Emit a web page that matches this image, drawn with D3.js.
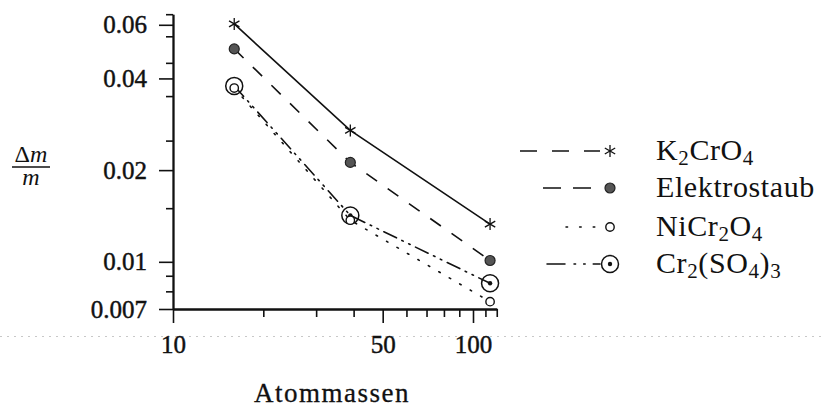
<!DOCTYPE html>
<html>
<head>
<meta charset="utf-8">
<script src="https://cdn.jsdelivr.net/npm/d3@7"></script>
<style>
  html, body { margin: 0; padding: 0; background: #fff; }
  svg { display: block; }
  svg text { font-family: "Liberation Serif", "DejaVu Serif", serif; fill: #111; }
</style>
</head>
<body>
<svg id="chart" width="826" height="408"></svg>
<script>
// Atomic masses of the measured elements (x) and relative mass change (y)
const masses = [16, 39, 114];
const k2cro4 = [0.0604, 0.0270, 0.0133];
const elektrostaub = [0.0500, 0.0212, 0.0101];
const nicr2o4 = [0.0372, 0.0137, 0.0074];
const cr2so43 = [0.0378, 0.0142, 0.0085];

const seriesNames = ["K_2CrO_4", "Elektrostaub", "NiCr_2O_4", "Cr_2(SO_4)_3"];

const xMajorTicks = [10, 50, 100];
const xMajorLabels = ["10", "50", "100"];
const xMinorTicks = [20, 30, 40, 60, 70, 80, 90, 110, 120];
const yMajorTicks = [0.007, 0.01, 0.02, 0.04, 0.06];
const yMajorLabels = ["0.007", "0.01", "0.02", "0.04", "0.06"];
const yMinorTicks = [0.008, 0.009, 0.015, 0.025, 0.035, 0.045, 0.055, 0.065];

const xLabel = "Atommassen";

const svg = d3.select("#chart");
const SERIF = "'Liberation Serif', 'DejaVu Serif', serif";

const x = d3.scaleLog().domain([10, 120]).range([173, 173 + 300 * Math.log10(12)]);
const y = d3.scaleLog().domain([0.007, 0.065]).range([309, 309 - 304.6 * Math.log10(0.065 / 0.007)]);

// faint scanner streak across the page
svg.append("line")
  .attr("x1", 0).attr("x2", 826).attr("y1", 336.5).attr("y2", 336.5)
  .attr("stroke", "#c8c8c8").attr("stroke-width", 1).attr("stroke-dasharray", "2,5");

// ---- axes ----
function styleAxis(g) {
  g.attr("font-family", null);
  g.selectAll("path, line").attr("stroke", "#111").attr("stroke-width", 1.6);
  g.selectAll("text")
    .style("font-family", SERIF).style("font-size", "25px")
    .attr("fill", "#111").attr("stroke", "#111").attr("stroke-width", 0.45);
}

const yMinorAxis = d3.axisLeft(y).tickValues(yMinorTicks).tickSize(7).tickSizeOuter(0).tickFormat(() => "");
svg.append("g").attr("transform", `translate(${x(10)},0)`).call(yMinorAxis).call(styleAxis);

const yAxis = d3.axisLeft(y).tickValues(yMajorTicks).tickSize(14).tickSizeOuter(0).tickPadding(12)
  .tickFormat((d, i) => yMajorLabels[i]);
svg.append("g").attr("transform", `translate(${x(10)},0)`).call(yAxis).call(styleAxis);

const xMinorAxis = d3.axisBottom(x).tickValues(xMinorTicks).tickSize(8).tickSizeOuter(0).tickFormat(() => "");
svg.append("g").attr("transform", `translate(0,${y(0.007)})`).call(xMinorAxis).call(styleAxis);

const xAxis = d3.axisBottom(x).tickValues(xMajorTicks).tickSize(14).tickSizeOuter(0).tickPadding(12)
  .tickFormat((d, i) => xMajorLabels[i]);
svg.append("g").attr("transform", `translate(0,${y(0.007)})`).call(xAxis).call(styleAxis);

svg.selectAll(".domain").attr("stroke-width", 1.8);

// axis titles
svg.append("text").attr("x", 332).attr("y", 402).attr("text-anchor", "middle")
  .style("font-family", SERIF).style("font-size", "27px")
  .attr("letter-spacing", 1.5).attr("stroke", "#111").attr("stroke-width", 0.3)
  .text(xLabel);

const yTitle = svg.append("g").attr("transform", "translate(31,0)");
const num = yTitle.append("text").attr("x", 0).attr("y", 162).attr("text-anchor", "middle")
  .style("font-family", SERIF).style("font-size", "24px");
num.append("tspan").text("Δ");
num.append("tspan").attr("font-style", "italic").text("m");
yTitle.append("line").attr("x1", -19).attr("x2", 19).attr("y1", 167).attr("y2", 167)
  .attr("stroke", "#111").attr("stroke-width", 1.5);
yTitle.append("text").attr("x", 0).attr("y", 185).attr("text-anchor", "middle")
  .style("font-family", SERIF).style("font-size", "24px").attr("font-style", "italic").text("m");

// ---- series ----
const series = [
  { values: k2cro4, dash: null, legendDash: "17,15", lx: 520, marker: "star" },
  { values: elektrostaub, dash: "13,13", legendDash: "18,12", lx: 543, marker: "filled" },
  { values: nicr2o4, dash: "1.6,10.5", legendDash: "1.6,12", lx: 566, marker: "open" },
  { values: cr2so43, dash: "14,6,1.6,6,1.6,6", legendDash: "18,9,1.6,8,1.6,8", lx: 547, marker: "dot" }
];

const line = d3.line().x(d => x(d[0])).y(d => y(d[1]));

function drawMarker(g, type, cx, cy) {
  if (type === "star") {
    const r = 6;
    [90, 30, 150].forEach(a => {
      const rad = a * Math.PI / 180;
      g.append("line")
        .attr("x1", cx - r * Math.cos(rad)).attr("y1", cy - r * Math.sin(rad))
        .attr("x2", cx + r * Math.cos(rad)).attr("y2", cy + r * Math.sin(rad))
        .attr("stroke", "#111").attr("stroke-width", 1.3);
    });
  } else if (type === "filled") {
    g.append("circle").attr("cx", cx).attr("cy", cy).attr("r", 5)
      .attr("fill", "#555").attr("stroke", "#222").attr("stroke-width", 1.2);
  } else if (type === "open") {
    g.append("circle").attr("cx", cx).attr("cy", cy).attr("r", 4.2)
      .attr("fill", "#fff").attr("stroke", "#111").attr("stroke-width", 1.4);
  } else if (type === "dot") {
    g.append("circle").attr("cx", cx).attr("cy", cy).attr("r", 8.5)
      .attr("fill", "none").attr("stroke", "#111").attr("stroke-width", 1.5);
    g.append("circle").attr("cx", cx).attr("cy", cy).attr("r", 2.2).attr("fill", "#111");
  }
}

const plot = svg.append("g");
series.forEach(s => {
  const pts = masses.map((m, i) => [m, s.values[i]]);
  plot.append("path").attr("d", line(pts)).attr("fill", "none")
    .attr("stroke", "#111").attr("stroke-width", 1.6)
    .attr("stroke-linecap", s.marker === "open" || s.marker === "dot" ? "round" : "butt")
    .attr("stroke-dasharray", s.dash);
});
// larger circles first so the small ones stay visible inside them
[3, 0, 1, 2].forEach(k => {
  const s = series[k];
  masses.forEach((m, i) => drawMarker(plot, s.marker, x(m), y(s.values[i])));
});

// ---- legend ----
const legendRowY = [151, 188, 227, 264];
const legend = svg.append("g");
series.forEach((s, i) => {
  const ly = legendRowY[i];
  legend.append("line").attr("x1", s.lx).attr("x2", 600).attr("y1", ly).attr("y2", ly)
    .attr("stroke", "#111").attr("stroke-width", 1.5)
    .attr("stroke-linecap", s.marker === "open" || s.marker === "dot" ? "round" : "butt")
    .attr("stroke-dasharray", s.legendDash);
  drawMarker(legend, s.marker, 610, ly);

  const t = legend.append("text").attr("x", 656).attr("y", ly + 9)
    .style("font-family", SERIF).style("font-size", "30px").attr("letter-spacing", 0.6);
  const parts = seriesNames[i].split(/_(\d)/);
  parts.forEach((p, j) => {
    if (!p) return;
    if (j % 2 === 1) {
      t.append("tspan").style("font-size", "21px").attr("dy", 5).text(p);
    } else {
      const ts = t.append("tspan").text(p);
      if (j > 0) ts.attr("dy", -5);
    }
  });
});
</script>
</body>
</html>
